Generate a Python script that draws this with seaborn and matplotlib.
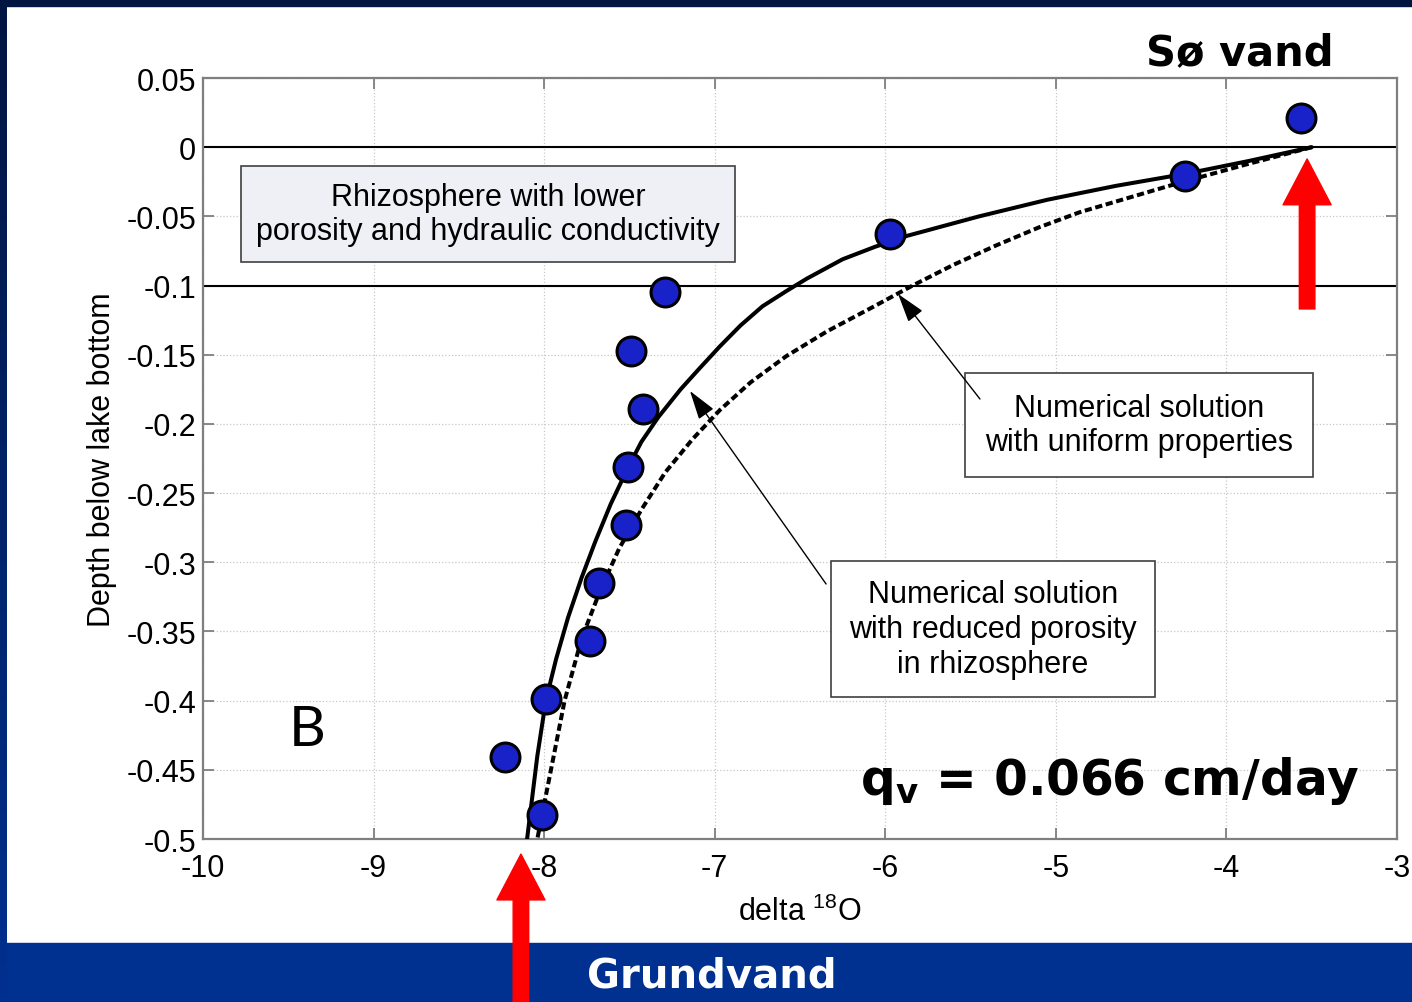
import matplotlib
matplotlib.use('Agg')
import matplotlib.pyplot as plt
import numpy as np
import pandas as pd
import seaborn as sns
from matplotlib.patches import Rectangle
from matplotlib.colors import LinearSegmentedColormap

# delta 18O profile below the lake bottom
obs_delta = [-3.56, -4.24, -5.97, -7.29, -7.49, -7.42, -7.51, -7.52, -7.68, -7.73, -7.99, -8.23, -8.01]
obs_depth = [0.021, -0.021, -0.063, -0.105, -0.147, -0.189, -0.231, -0.273, -0.315, -0.357, -0.399, -0.441, -0.483]

# numerical solution with reduced porosity in rhizosphere (solid)
rhizo_delta = [-3.50, -3.87, -4.23, -4.65, -5.05, -5.45, -5.87, -6.06, -6.25, -6.46, -6.58, -6.72, -6.85,
               -6.97, -7.09, -7.20, -7.33, -7.43, -7.51, -7.61, -7.70, -7.78, -7.86, -7.93, -7.99,
               -8.04, -8.08, -8.10]
rhizo_depth = [0.000, -0.010, -0.019, -0.028, -0.038, -0.050, -0.064, -0.072, -0.081, -0.095, -0.104, -0.115, -0.129,
               -0.144, -0.160, -0.175, -0.195, -0.213, -0.232, -0.258, -0.285, -0.311, -0.340, -0.370, -0.400,
               -0.440, -0.480, -0.500]

# numerical solution with uniform properties (dotted)
uniform_delta = [-3.50, -3.90, -4.31, -4.86, -5.10, -5.35, -5.60, -5.84, -6.08, -6.34, -6.58, -6.79,
                 -6.97, -7.13, -7.29, -7.43, -7.56, -7.67, -7.78, -7.88, -7.96, -8.04]
uniform_depth = [0.000, -0.013, -0.027, -0.047, -0.058, -0.071, -0.085, -0.100, -0.116, -0.133, -0.151, -0.170,
                 -0.190, -0.211, -0.235, -0.262, -0.290, -0.320, -0.355, -0.400, -0.450, -0.500]

layer_depths = [0.0, -0.1]  # lake bottom, base of rhizosphere

x_ticks = [-10, -9, -8, -7, -6, -5, -4, -3]
y_ticks = [0.05, 0, -0.05, -0.1, -0.15, -0.2, -0.25, -0.3, -0.35, -0.4, -0.45, -0.5]

sns.set_style('ticks')
plt.rcParams['font.family'] = ['Liberation Sans', 'DejaVu Sans']
plt.rcParams['text.color'] = 'black'
plt.rcParams['axes.labelcolor'] = 'black'
plt.rcParams['axes.unicode_minus'] = False
plt.rcParams['mathtext.fontset'] = 'custom'
plt.rcParams['mathtext.rm'] = 'Liberation Sans'
plt.rcParams['mathtext.bf'] = 'DejaVu Sans:bold'

W, H = 1412, 1003
fig = plt.figure(figsize=(W / 100, H / 100), dpi=100, facecolor='white')

# slide frame
fig.add_artist(Rectangle((0, 1 - 7 / H), 1, 7 / H, transform=fig.transFigure, color='#001540', zorder=-5))
fig.add_artist(Rectangle((0, 0), 1, 59 / H, transform=fig.transFigure, color='#003090', zorder=-5))
gax = fig.add_axes([0, 0, 7 / W, 1])
gax.imshow(np.linspace(0, 1, 256).reshape(-1, 1), aspect='auto',
           cmap=LinearSegmentedColormap.from_list('frame', ['#001540', '#003090']))
gax.set_axis_off()

ax = fig.add_axes([203 / W, 1 - 840 / H, (1397 - 203) / W, (840 - 79) / H])
ax.grid(True, linestyle=':', color='#c8c8c8', linewidth=0.9)
ax.set_axisbelow(True)

for d in layer_depths:
    ax.axhline(d, color='black', lw=1.5, zorder=2)

sns.lineplot(x=rhizo_delta, y=rhizo_depth, ax=ax, sort=False, estimator=None,
             color='black', lw=2.9, zorder=3)
sns.lineplot(x=uniform_delta, y=uniform_depth, ax=ax, sort=False, estimator=None,
             color='black', lw=2.9, linestyle=(0, (1.8, 0.9)), zorder=3)
sns.scatterplot(x=obs_delta, y=obs_depth, ax=ax, s=433, color='#1822c8',
                edgecolor='black', linewidth=2.2, zorder=6, legend=False)

ax.set_xlim(-10, -3)
ax.set_ylim(-0.5, 0.05)
ax.set_xticks(x_ticks)
ax.set_yticks(y_ticks)
ax.xaxis.set_major_formatter(plt.FuncFormatter(lambda v, pos: f'{v:g}'))
ax.yaxis.set_major_formatter(plt.FuncFormatter(lambda v, pos: f'{v:g}'))
ax.tick_params(direction='in', length=8, width=1.3, color='#7f7f7f', top=True, right=True,
               labelsize=22, labelcolor='black')
ax.tick_params(axis='x', pad=10)
ax.tick_params(axis='y', pad=5)
for sp in ax.spines.values():
    sp.set_color('#7f7f7f')
    sp.set_linewidth(1.6)

ax.set_xlabel(r'delta $^{18}$O', fontsize=22, labelpad=9)
ax.set_ylabel('Depth below lake bottom', fontsize=22, labelpad=7)

# text boxes and pointers
ax.text(-8.329, -0.0483, 'Rhizosphere with lower\nporosity and hydraulic conductivity',
        ha='center', va='center', fontsize=22, linespacing=1.2, zorder=7,
        bbox=dict(boxstyle='square,pad=0.5', fc='#eef0f6', ec='#404040', lw=1.2))
ax.text(-4.513, -0.2008, 'Numerical solution\nwith uniform properties',
        ha='center', va='center', fontsize=22, linespacing=1.2, zorder=7,
        bbox=dict(boxstyle='square,pad=0.65', fc='white', ec='#404040', lw=1.2))
ax.text(-5.368, -0.3482, 'Numerical solution\nwith reduced porosity\nin rhizosphere',
        ha='center', va='center', fontsize=22, linespacing=1.2, zorder=7,
        bbox=dict(boxstyle='square,pad=0.6', fc='white', ec='#404040', lw=1.2))

pointer = dict(arrowstyle='-|>,head_length=0.9,head_width=0.28', color='black', lw=1,
               mutation_scale=20, shrinkA=0, shrinkB=0)
ax.annotate('', xy=(-5.925, -0.1061), xytext=(-5.445, -0.182), arrowprops=pointer, zorder=7)
ax.annotate('', xy=(-7.145, -0.1762), xytext=(-6.347, -0.3157), arrowprops=pointer, zorder=7)

ax.text(-9.39, -0.4205, 'B', ha='center', va='center', fontsize=41, family=['Lato', 'DejaVu Sans'])
ax.text(-6.148, -0.4675, r'$\mathbf{q_v}$ = 0.066 cm/day', ha='left', va='baseline',
        fontsize=35, fontweight='bold', family=['DejaVu Sans'], color='black', zorder=7)

# red flow arrows
red = dict(arrowstyle='simple,head_length=1.65,head_width=1.73,tail_width=0.56',
           mutation_scale=20, color='#ff0000', shrinkA=0, shrinkB=0)
ax.annotate('', xy=(-3.527, -0.0085), xytext=(0, -150), textcoords='offset pixels',
            arrowprops=red, annotation_clip=False, zorder=8)
ax.annotate('', xy=(-8.136, -0.5109), xytext=(0, -165), textcoords='offset pixels',
            arrowprops=red, annotation_clip=False, zorder=8)

fig.text(1240 / W, 1 - 65 / H, 'Sø vand', ha='center', va='baseline', fontsize=30,
         fontweight='bold', family=['DejaVu Sans'], color='black')
fig.text(712 / W, 1 - 988 / H, 'Grundvand', ha='center', va='baseline', fontsize=29,
         fontweight='bold', family=['DejaVu Sans'], color='white', zorder=10)

fig.savefig('out.png', dpi=100, facecolor=fig.get_facecolor())
